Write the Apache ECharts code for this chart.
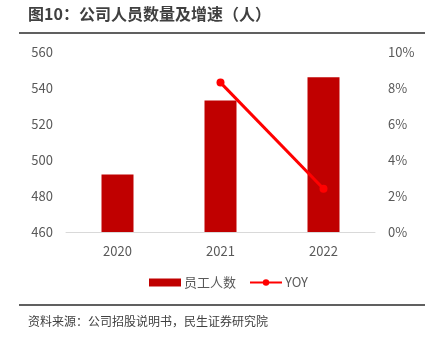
<!DOCTYPE html>
<html><head><meta charset="utf-8">
<script src="https://cdn.jsdelivr.net/npm/echarts@6/dist/echarts.min.js"></script>
<style>html,body{margin:0;padding:0;background:#fff}#c{width:432px;height:344px}</style>
</head><body><div id="c"></div>
<script>
var categories = ['2020', '2021', '2022'];
var staff = [492, 533, 546];
var yoy = [null, 8.3, 2.4];
var leftTicks = [460, 560, 20];
var rightTicks = [0, 10, 2];
var titleText = '图10：公司人员数量及增速（人）';
var sourceText = '资料来源：公司招股说明书，民生证券研究院';

var font = '"Noto Sans CJK SC", "Noto Sans", sans-serif';
var chart = echarts.init(document.getElementById('c'), null, {renderer: 'canvas'});
chart.setOption({
  animation: false,
  textStyle: {fontFamily: font},
  graphic: [
    {type: 'text', left: 28, top: 6, style: {text: titleText, font: 'bold 16px ' + font, fill: '#404040'}},
    {type: 'line', shape: {x1: 19, y1: 33, x2: 425, y2: 33}, style: {stroke: '#606060', lineWidth: 2}},
    {type: 'line', shape: {x1: 19, y1: 305, x2: 425, y2: 305}, style: {stroke: '#606060', lineWidth: 2}},
    {type: 'text', left: 28, top: 315, style: {text: sourceText, font: '12px ' + font, fill: '#404040'}}
  ],
  grid: {left: 66, right: 57, top: 52, bottom: 112},
  legend: {
    top: 271, left: 144, itemGap: 13, itemWidth: 32, itemHeight: 8,
    textStyle: {fontSize: 13, color: '#595959', fontFamily: font, padding: [0, 0, 0, -2]},
    data: [{name: '员工人数', icon: 'rect'}, {name: 'YOY'}]
  },
  xAxis: {
    type: 'category', data: categories,
    axisLine: {lineStyle: {color: '#D9D9D9'}},
    axisTick: {show: false},
    axisLabel: {color: '#595959', fontSize: 13, margin: 13}
  },
  yAxis: [
    {type: 'value', min: leftTicks[0], max: leftTicks[1], interval: leftTicks[2],
     splitLine: {show: false}, axisLine: {show: false}, axisTick: {show: false},
     axisLabel: {color: '#595959', fontSize: 13, margin: 13}},
    {type: 'value', min: rightTicks[0], max: rightTicks[1], interval: rightTicks[2],
     splitLine: {show: false}, axisLine: {show: false}, axisTick: {show: false},
     axisLabel: {color: '#595959', fontSize: 13, margin: 13, formatter: '{value}%'}}
  ],
  series: [
    {name: '员工人数', type: 'bar', data: staff, barWidth: 32, itemStyle: {color: '#C00000'}},
    {name: 'YOY', type: 'line', yAxisIndex: 1, data: yoy, symbol: 'circle', symbolSize: 8,
     lineStyle: {color: '#FF0000', width: 3}, itemStyle: {color: '#FF0000'}}
  ]
});
</script></body></html>
